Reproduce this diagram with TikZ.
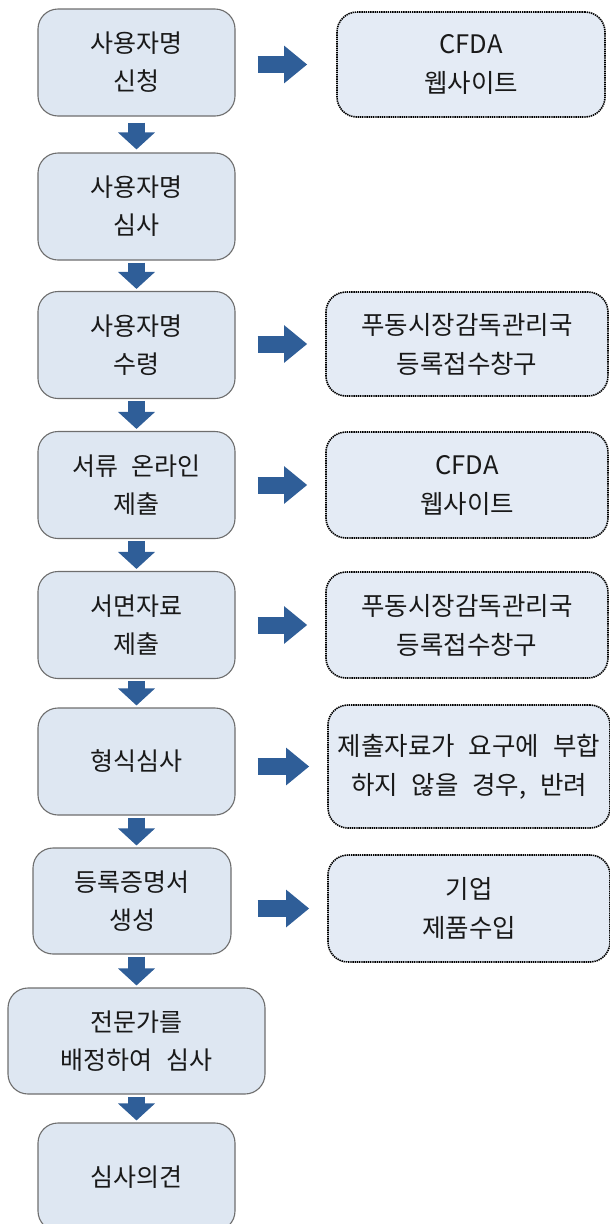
\documentclass[tikz,border=0pt]{standalone}
\usepackage{fontspec}
\setmainfont[WordSpace=2.4]{Noto Sans CJK KR}
\usetikzlibrary{arrows.meta}
\definecolor{boxfill}{RGB}{222,231,242}
\definecolor{sidefill}{RGB}{228,235,245}
\definecolor{boxline}{RGB}{110,110,110}
\definecolor{arrowblue}{RGB}{47,94,152}

\begin{document}
\begin{tikzpicture}[x=1pt, y=-1pt,
		stepbox/.style={draw=boxline, line width=1.1pt, fill=boxfill, rounded corners=20pt,
			minimum width=197pt, minimum height=107pt, inner sep=0pt, align=center,
			text=black!90, font=\fontsize{25}{38}\selectfont},
		sidebox/.style={draw=black, line width=1.6pt, dash pattern=on 1.4pt off 0.8pt,
			fill=sidefill, rounded corners=20pt, minimum width=282pt, minimum height=106pt,
			inner sep=0pt, align=center, text=black!90, font=\fontsize{25.5}{39}\selectfont},
		downarrow/.style={draw=arrowblue, line width=17pt,
			-{Triangle[width=36pt, length=17pt]}, shorten <=2pt, shorten >=2pt},
		rightarrow/.style={draw=arrowblue, line width=17pt,
			-{Triangle[width=36pt, length=23pt]}, shorten <=22pt, shorten >=18pt}
	]
	\useasboundingbox (0,0) rectangle (610,1224);

	% steps on the left
	\node[stepbox] (b1) at (136.5, 62.5) {사용자명\\신청};
	\node[stepbox] (b2) at (136.5, 206.5) {사용자명\\심사};
	\node[stepbox] (b3) at (136.5, 345) {사용자명\\수령};
	\node[stepbox] (b4) at (136.5, 485) {서류 온라인\\제출};
	\node[stepbox] (b5) at (136.5, 625) {서면자료\\제출};
	\node[stepbox] (b6) at (136.5, 761.5) {형식심사};
	\node[stepbox, minimum width=198pt, minimum height=106pt] (b7) at (132, 901) {등록증명서\\생성};
	\node[stepbox, minimum width=257pt, minimum height=106pt] (b8) at (136.5, 1041) {전문가를\\배정하여 심사};
	\node[stepbox, minimum height=108pt] (b9) at (136.5, 1177) {심사의견};

	% notes on the right
	\node[sidebox, minimum width=268pt, minimum height=105pt] (r1) at (471, 64.5) {CFDA\\웹사이트};
	\node[sidebox, minimum height=104pt] (r2) at (467, 344) {푸동시장감독관리국\\등록접수창구};
	\node[sidebox] (r3) at (467, 485) {CFDA\\웹사이트};
	\node[sidebox] (r4) at (467, 625) {푸동시장감독관리국\\등록접수창구};
	\node[sidebox, minimum height=123pt] (r5) at (469, 766.5) {제출자료가 요구에 부합\\하지 않을 경우, 반려};
	\node[sidebox, minimum height=107pt] (r6) at (469, 908.5) {기업\\제품수입};

	% flow downwards
	\draw[downarrow, shorten <=6pt, shorten >=3pt] (b1) -- (b2);
	\foreach \a/\b in {b2/b3, b3/b4, b4/b5, b5/b6, b8/b9}
		\draw[downarrow] (\a.south) -- (\b.north);
	\draw[downarrow] (b6.south) -- (b6.south |- b7.north);
	\draw[downarrow] (b8.north |- b7.south) -- (b8.north);

	% arrows to the notes
	\draw[rightarrow, shorten >=29pt] (b1.east |- r1.west) -- (r1.west);
	\draw[rightarrow] (b3.east |- r2.west) -- (r2.west);
	\draw[rightarrow] (b4.east |- r3.west) -- (r3.west);
	\draw[rightarrow] (b5.east |- r4.west) -- (r4.west);
	\draw[rightarrow] (b6.east |- r5.west) -- (r5.west);
	\draw[rightarrow, shorten <=26pt] (b7.east |- r6.west) -- (r6.west);
\end{tikzpicture}
\end{document}
